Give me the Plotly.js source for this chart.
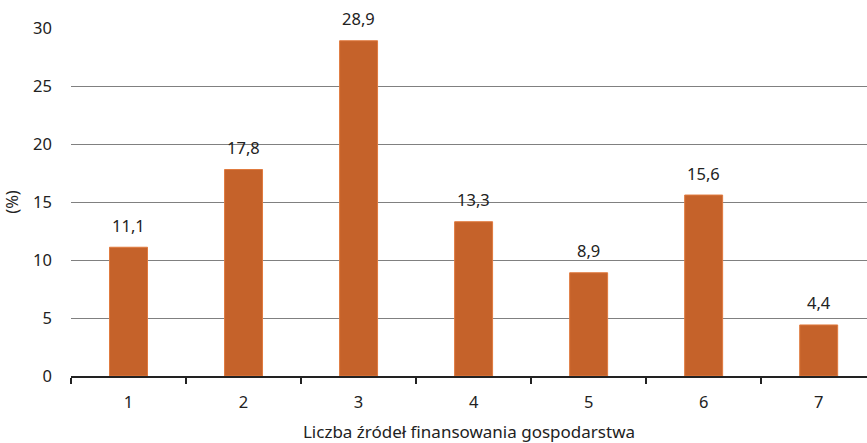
<!DOCTYPE html>
<html><head><meta charset="utf-8">
<script src="https://cdn.plot.ly/plotly-3.0.1.min.js"></script>
<style>html,body{margin:0;padding:0;background:#fff}</style>
</head><body><div id="chart" style="width:867px;height:443px"></div>
<script>
const categories = ["1","2","3","4","5","6","7"];
const shares = [11.1, 17.8, 28.9, 13.3, 8.9, 15.6, 4.4];
const labels = ["11,1","17,8","28,9","13,3","8,9","15,6","4,4"];
const yTicks = [0,5,10,15,20,25,30];

const txt = {family: "Noto Sans, Open Sans, sans-serif", size: 16.5, color: "#222"};
const annotations = categories.map((c, i) => ({
  x: i, y: shares[i], text: labels[i], showarrow: false,
  xref: "x", yref: "y", yanchor: "middle", yshift: 22, font: txt
}));
Plotly.newPlot("chart", [{
  type: "bar", x: categories, y: shares,
  marker: {color: "#C5622A", line: {color: "#E07A3E", width: 1}},
  hoverinfo: "none"
}], {
  width: 867, height: 443,
  margin: {l: 71, r: 0, t: 28, b: 67},
  font: txt,
  bargap: 0.67,
  showlegend: false,
  annotations: annotations,
  plot_bgcolor: "#fff", paper_bgcolor: "#fff",
  xaxis: {
    type: "category", range: [-0.5, 6.42],
    showline: true, linecolor: "#222", linewidth: 2,
    ticks: "outside", tickson: "boundaries", ticklen: 6, tickcolor: "#222", tickwidth: 2,
    ticklabelstandoff: 10,
    showgrid: false, zeroline: false,
    title: {text: "Liczba źródeł finansowania gospodarstwa", font: {family: txt.family, size: 17, color: "#222"}, standoff: 18}
  },
  yaxis: {
    range: [0, 30], tickvals: yTicks, ticktext: yTicks.map(String),
    showline: false, showgrid: true, gridcolor: "#808080", gridwidth: 1,
    zeroline: false, ticks: "", ticklabelstandoff: 18,
    title: {text: "(%)", font: txt, standoff: 16}
  }
}, {staticPlot: true});
</script></body></html>
